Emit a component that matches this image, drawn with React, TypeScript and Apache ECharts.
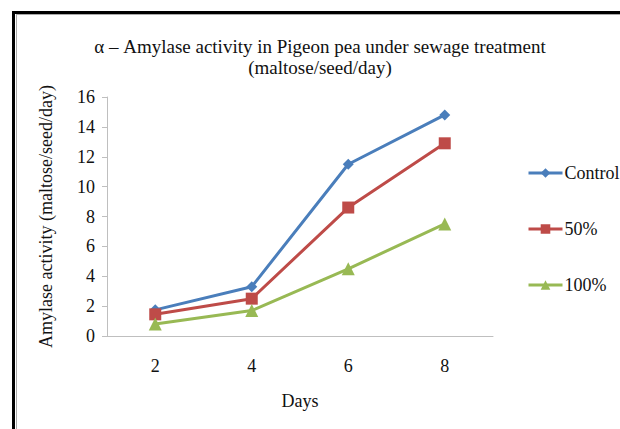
import React, { useEffect, useRef } from "react";
import * as echarts from "echarts";

const days = ["2", "4", "6", "8"];
const controlValues = [1.75, 3.3, 11.5, 14.8];
const fiftyValues = [1.45, 2.5, 8.6, 12.9];
const hundredValues = [0.8, 1.7, 4.5, 7.5];
const seriesNames = ["Control", "50%", "100%"];

const FONT = "Liberation Serif";

export default function App() {
  const ref = useRef<HTMLDivElement>(null);
  useEffect(() => {
    document.body.style.margin = "0";
    const chart = echarts.init(ref.current!, undefined, { renderer: "svg" });
    const mk = (name: string, data: number[], color: string, symbol: string, size: number) => ({
      name,
      type: "line",
      data,
      symbol,
      symbolSize: size,
      lineStyle: { color, width: 3 },
      itemStyle: { color },
      z: 3,
    });
    chart.setOption({
      animation: false,
      backgroundColor: "#ffffff",
      textStyle: { fontFamily: FONT },
      title: {
        text: "α – Amylase activity in Pigeon pea under sewage treatment\n(maltose/seed/day)",
        left: 315,
        textAlign: "center",
        top: 31,
        textStyle: { fontFamily: FONT, fontSize: 19, fontWeight: "normal", color: "#111", lineHeight: 21 },
      },
      legend: {
        orient: "vertical",
        left: 522,
        top: 159,
        itemGap: 38,
        itemWidth: 34,
        itemHeight: 12,
        data: seriesNames,
        lineStyle: { width: 3 },
        textStyle: { fontFamily: FONT, fontSize: 18, color: "#111", padding: [0, 0, 0, -3] },
      },
      grid: { left: 107, right: 127, top: 97, bottom: 93 },
      xAxis: {
        type: "category",
        data: days,
        boundaryGap: true,
        name: "Days",
        nameLocation: "middle",
        nameGap: 56,
        nameTextStyle: { fontFamily: FONT, fontSize: 18, color: "#111" },
        axisLine: { lineStyle: { color: "#bfbfbf", width: 1 } },
        axisTick: { show: false },
        axisLabel: { fontFamily: FONT, fontSize: 18, color: "#111", margin: 21 },
      },
      yAxis: {
        type: "value",
        min: 0,
        max: 16,
        interval: 2,
        name: "Amylase activity (maltose/seed/day)",
        nameLocation: "middle",
        nameGap: 52,
        nameTextStyle: { fontFamily: FONT, fontSize: 18, color: "#111" },
        axisLine: { show: true, lineStyle: { color: "#bfbfbf", width: 1 } },
        axisTick: { show: true, length: 5, lineStyle: { color: "#bfbfbf" } },
        splitLine: { show: false },
        axisLabel: { fontFamily: FONT, fontSize: 18, color: "#111", margin: 12 },
      },
      graphic: [
        { type: "rect", shape: { x: 12, y: 11, width: 620, height: 3 }, style: { fill: "#000" } },
        { type: "rect", shape: { x: 12, y: 11, width: 3, height: 430 }, style: { fill: "#000" } },
        { type: "line", shape: { x1: 16, y1: 14.5, x2: 620, y2: 14.5 }, style: { stroke: "#aaa", lineWidth: 1 } },
        { type: "line", shape: { x1: 16.5, y1: 15, x2: 16.5, y2: 429 }, style: { stroke: "#aaa", lineWidth: 1 } },
      ],
      series: [
        mk(seriesNames[0], controlValues, "#4A7EBB", "diamond", 11),
        mk(seriesNames[1], fiftyValues, "#BE4B48", "rect", 12),
        mk(seriesNames[2], hundredValues, "#98B954", "triangle", 13),
      ],
    });
    return () => chart.dispose();
  }, []);
  return <div ref={ref} style={{ width: 620, height: 429, position: "absolute", left: 0, top: 0 }} />;
}
